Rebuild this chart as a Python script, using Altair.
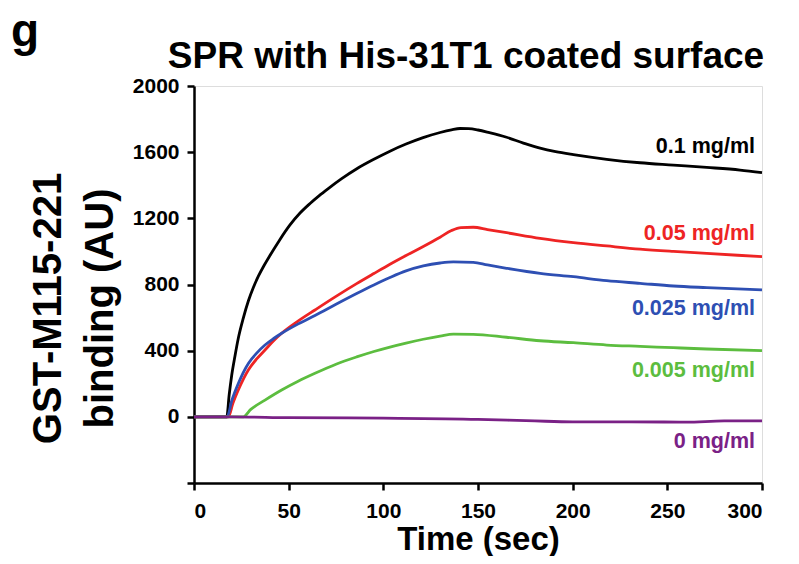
import altair as alt
import pandas as pd

FONT = "Liberation Sans"

series_names = ["0.1 mg/ml", "0.05 mg/ml", "0.025 mg/ml", "0.005 mg/ml", "0 mg/ml"]
series_colors = ["#000000", "#ee2424", "#2e4fb3", "#5cbd3f", "#7a2186"]

t_black = [0, 17.3, 18.6, 19.9, 21.6, 23.4, 26, 28.7, 31.3, 34, 37, 40.1, 45, 50.7, 56,
           61.3, 66, 70.9, 78, 86, 95, 103.5, 112, 121, 130, 136, 140.5, 145, 150, 156,
           165.1, 174, 182.8, 191, 200.4, 218, 235.6, 253.2, 270.8, 288.4, 300]
v_black = [0, 0, 135, 250, 365, 475, 595, 700, 780, 850, 915, 975, 1065, 1160, 1232,
           1290, 1336, 1380, 1440, 1500, 1557, 1606, 1649, 1688, 1719, 1735, 1743, 1742, 1734, 1718,
           1690, 1655, 1624, 1603, 1585, 1557, 1536, 1522, 1508, 1492, 1476]

t_red = [0, 18.2, 20.5, 23.4, 28.7, 33.1, 37.5, 41.9, 46.3, 55.1, 63.9, 75, 85.9, 95, 103.5,
         112, 121.1, 130, 136, 141, 147.5, 155, 165.1, 182.8, 200.4, 218, 235.6, 253.2, 270.8, 300]
v_red = [0, 0, 80, 162, 283, 350, 404, 458, 505, 580, 646, 728, 805, 866, 922,
         975, 1030, 1086, 1126, 1144, 1146, 1132, 1113, 1079, 1053, 1033, 1014, 1000, 988, 968]

t_blue = [0, 17.5, 20, 23.4, 28.7, 33.1, 37.5, 41.9, 46.3, 55.1, 63.9, 75, 85.9, 95, 103.5,
          112, 121.1, 130, 137, 147.5, 155, 165.1, 182.8, 200.4, 218, 235.6, 253.2, 270.8, 300]
v_blue = [0, 0, 100, 202, 323, 385, 434, 472, 505, 562, 612, 680, 745, 797, 842,
          882, 912, 930, 937, 934, 918, 898, 867, 847, 823, 807, 791, 781, 767]

t_green = [0, 26, 30, 37.5, 46.3, 55, 63.9, 75, 85.9, 95, 103.5, 112, 121.1, 130, 137, 147.5,
           165.1, 182.8, 200.4, 218, 235.6, 253.2, 270.8, 300]
v_green = [0, 0, 45, 101, 162, 215, 263, 318, 362, 395, 422, 446, 469, 488, 500, 499,
           481, 460, 448, 434, 426, 418, 410, 400]

t_purple = [0, 20, 50, 100, 150, 180, 200, 230, 260, 280, 300]
v_purple = [0, 0, -5, -8, -15, -25, -30, -30, -32, -25, -25]

label_x = [296.3, 296.3, 296.3, 296.3, 296.3]
label_y = [1592, 1068, 615, 242, -189]

title_text = ["SPR with His-31T1 coated surface"]
panel_letter = ["g"]

series_t = [t_black, t_red, t_blue, t_green, t_purple]
series_v = [v_black, v_red, v_blue, v_green, v_purple]

rows = []
for name, ts, vs in zip(series_names, series_t, series_v):
    for t, v in zip(ts, vs):
        rows.append({"series": name, "time": t, "value": v})
df = pd.DataFrame(rows)

labels = pd.DataFrame({"series": series_names, "time": label_x, "value": label_y})

color = alt.Color("series:N", scale=alt.Scale(domain=series_names, range=series_colors), legend=None)

x = alt.X("time:Q", scale=alt.Scale(domain=[0, 300], nice=False),
          axis=alt.Axis(values=[0, 50, 100, 150, 200, 250, 300], title="Time (sec)",
                        grid=False, domainColor="black", domainWidth=2.5, tickColor="black",
                        tickWidth=2.5, tickSize=7, labelFont=FONT, labelFontSize=21,
                        labelFontWeight="bold", labelColor="black", labelPadding=10,
                        titleFont=FONT, titleFontSize=33, titleFontWeight="bold",
                        titleColor="black", titlePadding=2))
y = alt.Y("value:Q", scale=alt.Scale(domain=[-400, 2000], nice=False),
          axis=alt.Axis(values=[-400, 0, 400, 800, 1200, 1600, 2000], format="d",
                        labelExpr="datum.value == -400 ? '' : datum.label",
                        title=["GST-M115-221", "binding  (AU)"],
                        grid=False, domainColor="black", domainWidth=2.5, tickColor="black",
                        tickWidth=2.5, tickSize=7, labelFont=FONT, labelFontSize=21,
                        labelFontWeight="bold", labelColor="black", labelPadding=8,
                        titleFont=FONT, titleFontSize=40, titleFontWeight="bold",
                        titleColor="black", titleLineHeight=52, titlePadding=12,
                        titleY=222))

lines = alt.Chart(df).mark_line(strokeWidth=2.8, interpolate="monotone").encode(
    x=x, y=y, color=color, order="time:Q")

text = alt.Chart(labels).mark_text(align="right", baseline="alphabetic", font=FONT,
                                   fontSize=21.5, fontWeight="bold").encode(
    x="time:Q", y="value:Q", text="series:N", color=color)

glabel = alt.Chart(pd.DataFrame({"t": panel_letter})).mark_text(
    align="left", baseline="alphabetic", font=FONT, fontSize=46, fontWeight="bold",
    color="black").encode(x=alt.value(-183), y=alt.value(-40), text="t:N")

tlabel = alt.Chart(pd.DataFrame({"t": title_text})).mark_text(
    align="center", baseline="alphabetic", font=FONT, fontSize=37, fontWeight="bold",
    color="black").encode(x=alt.value(272), y=alt.value(-18), text="t:N")

chart = alt.layer(lines, text, glabel, tlabel).properties(
    width=568, height=397,
    padding={"left": 186, "top": 78, "right": 29, "bottom": 73},
    autosize=alt.AutoSizeParams(type="none"),
).configure_view(stroke=None).configure(background="white")

chart.save("out.html", embed_options={"renderer": "svg", "actions": False})
